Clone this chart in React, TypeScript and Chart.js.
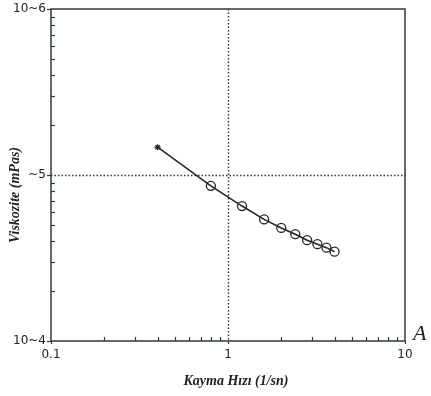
import React, { useEffect, useRef } from "react";
import { Chart, registerables } from "chart.js";

Chart.register(...registerables);

const shearRates = [0.4, 0.8, 1.2, 1.6, 2.0, 2.4, 2.8, 3.2, 3.6, 4.0];
const viscosities = [147000, 86000, 65000, 54000, 48000, 44000, 40500, 38300, 36500, 34500];
const pointShapes = ["star", "circle", "circle", "circle", "circle", "circle", "circle", "circle", "circle", "circle"];

const xTickValues = [0.1, 1, 10];
const xTickLabels = ["0.1", "1", "10"];
const yTickValues = [1e6, 1e5, 1e4];
const yTickLabels = ["10~6", "~5", "10~4"];

const xTitle = "Kayma Hızı (1/sn)";
const yTitle = "Viskozite (mPas)";
const panelLetter = "A";

const INK = "#262626";
const AXIS = "#2f3b3a";

const framePlugin = {
  id: "framePlugin",
  beforeDatasetsDraw(chart: any) {
    const { ctx, chartArea: a, scales } = chart;
    const xs = scales.x;
    const ys = scales.y;
    ctx.save();
    // dotted reference lines
    ctx.strokeStyle = "#333";
    ctx.lineWidth = 1.4;
    ctx.setLineDash([1.5, 2]);
    const gx = Math.round(xs.getPixelForValue(1)) + 0.5;
    ctx.beginPath();
    ctx.moveTo(gx, a.top);
    ctx.lineTo(gx, a.bottom);
    ctx.stroke();
    const gy = Math.round(ys.getPixelForValue(1e5)) + 0.5;
    ctx.beginPath();
    ctx.moveTo(a.left, gy);
    ctx.lineTo(a.right, gy);
    ctx.stroke();
    ctx.setLineDash([]);

    // frame
    ctx.strokeStyle = AXIS;
    ctx.lineWidth = 1.5;
    ctx.beginPath();
    ctx.moveTo(a.left, a.top);
    ctx.lineTo(a.right, a.top);
    ctx.lineTo(a.right, a.bottom);
    ctx.lineTo(a.left, a.bottom);
    ctx.closePath();
    ctx.stroke();

    // minor ticks (inward)
    ctx.lineWidth = 1.2;
    for (let d = 0.1; d < 10; d *= 10) {
      for (let m = 2; m <= 9; m++) {
        const px = Math.round(xs.getPixelForValue(d * m)) + 0.5;
        ctx.beginPath();
        ctx.moveTo(px, a.bottom);
        ctx.lineTo(px, a.bottom - 4);
        ctx.stroke();
      }
    }
    for (let d = 1e4; d < 1e6; d *= 10) {
      for (let m = 2; m <= 9; m++) {
        const py = Math.round(ys.getPixelForValue(d * m)) + 0.5;
        ctx.beginPath();
        ctx.moveTo(a.left, py);
        ctx.lineTo(a.left + 4, py);
        ctx.stroke();
      }
    }
    // major ticks
    yTickValues.forEach((v) => {
      const py = Math.round(ys.getPixelForValue(v)) + 0.5;
      ctx.beginPath();
      ctx.moveTo(a.left - 4, py);
      ctx.lineTo(a.left, py);
      ctx.stroke();
    });
    xTickValues.forEach((v) => {
      const px = Math.round(xs.getPixelForValue(v)) + 0.5;
      ctx.beginPath();
      ctx.moveTo(px, a.bottom);
      ctx.lineTo(px, a.bottom + 3);
      ctx.stroke();
    });

    // tick labels
    ctx.fillStyle = "#222";
    ctx.font = "12px 'DejaVu Sans'";
    ctx.textAlign = "center";
    ctx.textBaseline = "middle";
    xTickValues.forEach((v, i) => {
      ctx.fillText(xTickLabels[i], xs.getPixelForValue(v), a.bottom + 14);
    });
    ctx.textAlign = "right";
    yTickValues.forEach((v, i) => {
      ctx.fillText(yTickLabels[i], a.left - 5, ys.getPixelForValue(v));
    });

    // titles
    ctx.font = "italic bold 14px 'Liberation Serif'";
    ctx.textAlign = "center";
    ctx.fillText(xTitle, 236, 381);
    ctx.save();
    ctx.translate(15, 195);
    ctx.rotate(-Math.PI / 2);
    ctx.fillText(yTitle, 0, 0);
    ctx.restore();
    ctx.font = "italic 22px 'Liberation Serif'";
    ctx.textAlign = "left";
    ctx.fillText(panelLetter, 413, 334);
    ctx.restore();
  },
};

export default function App() {
  const ref = useRef<HTMLCanvasElement>(null);
  useEffect(() => {
    if (!ref.current) return;
    const chart = new Chart(ref.current, {
      type: "line",
      data: {
        datasets: [
          {
            data: shearRates.map((x, i) => ({ x, y: viscosities[i] })),
            borderColor: INK,
            borderWidth: 1.6,
            pointStyle: pointShapes as any,
            pointRadius: shearRates.map((_, i) => (i === 0 ? 3 : 4.5)),
            pointBorderColor: INK,
            pointBackgroundColor: "rgba(255,255,255,0)",
            pointBorderWidth: 1.3,
            fill: false,
            tension: 0,
          },
        ],
      },
      plugins: [framePlugin],
      options: {
        responsive: false,
        animation: false,
        layout: { padding: { top: 9, right: 26, left: 0, bottom: 0 } },
        plugins: { legend: { display: false }, tooltip: { enabled: false } },
        scales: {
          x: {
            type: "logarithmic",
            min: 0.1,
            max: 10,
            grid: { display: false },
            border: { display: false },
            ticks: { display: false },
            afterFit: (s: any) => {
              s.height = 55;
            },
          },
          y: {
            type: "logarithmic",
            min: 1e4,
            max: 1e6,
            grid: { display: false },
            border: { display: false },
            ticks: { display: false },
            afterFit: (s: any) => {
              s.width = 51;
            },
          },
        },
      },
    });
    return () => chart.destroy();
  }, []);
  return (
    <div style={{ position: "fixed", left: 0, top: 0, width: 431, height: 396, background: "#fff" }}>
      <canvas ref={ref} width={431} height={396} />
    </div>
  );
}
